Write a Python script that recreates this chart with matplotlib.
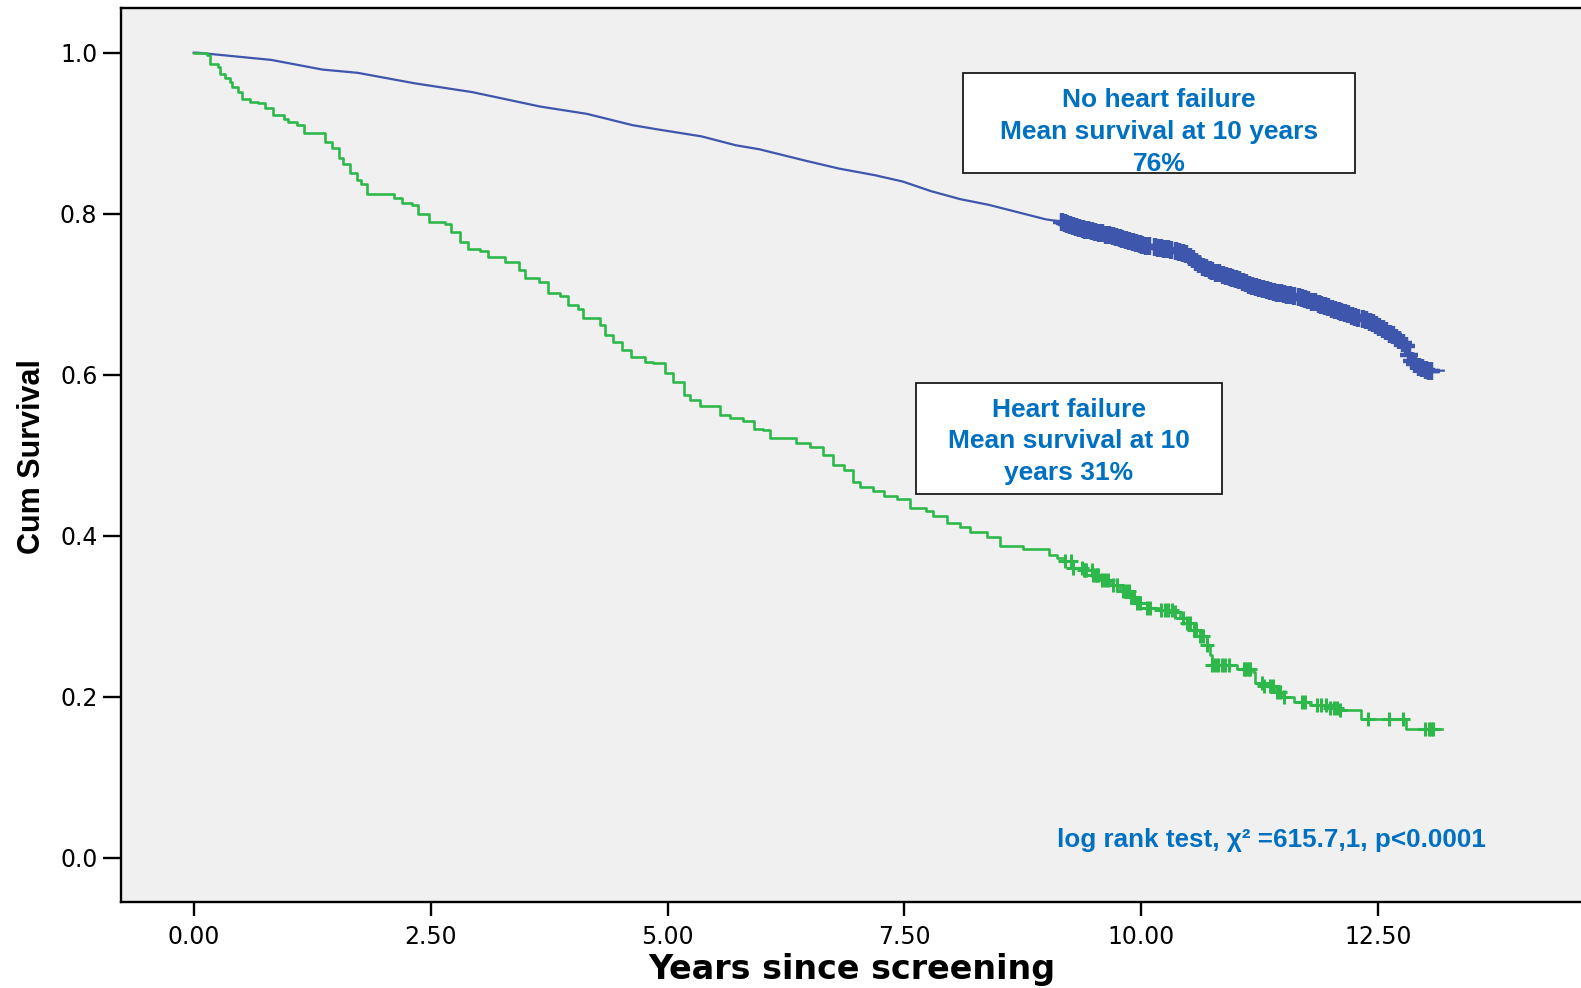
import numpy as np
import matplotlib
matplotlib.use("Agg")
import matplotlib.pyplot as plt
from matplotlib.patches import Rectangle

# ---------------- data ----------------
hf_times = [0.00, 0.14, 0.17, 0.26, 0.28, 0.33, 0.38, 0.40, 0.47, 0.51,
            0.60, 0.68, 0.75, 0.84, 0.95, 1.00, 1.09, 1.16, 1.39, 1.46,
            1.53, 1.58, 1.65, 1.72, 1.77, 1.83, 2.11, 2.20, 2.30, 2.37,
            2.48, 2.65, 2.72, 2.81, 2.90, 3.02, 3.11, 3.29, 3.43, 3.50,
            3.64, 3.74, 3.87, 3.95, 4.06, 4.11, 4.29, 4.34, 4.43, 4.52,
            4.62, 4.76, 4.85, 4.97, 5.06, 5.17, 5.24, 5.34, 5.55, 5.66,
            5.80, 5.91, 6.01, 6.08, 6.36, 6.50, 6.64, 6.75, 6.86, 6.96,
            7.03, 7.17, 7.28, 7.42, 7.56, 7.73, 7.80, 7.95, 8.09, 8.19,
            8.37, 8.51, 8.75, 9.02, 9.11, 9.19, 9.28, 9.39, 9.49, 9.56,
            9.67, 9.77, 9.88, 9.95, 10.06, 10.20, 10.34, 10.41, 10.48, 10.55,
            10.62, 10.69, 10.72, 10.74, 11.01, 11.18, 11.20, 11.29, 11.40, 11.47,
            11.61, 11.78, 11.96, 12.10, 12.32, 12.79, 13.17]
hf_surv = [1.000, 0.997, 0.986, 0.982, 0.974, 0.968, 0.964, 0.957, 0.951, 0.943,
           0.939, 0.937, 0.931, 0.922, 0.918, 0.914, 0.910, 0.900, 0.889, 0.881,
           0.869, 0.862, 0.850, 0.842, 0.837, 0.825, 0.819, 0.813, 0.811, 0.800,
           0.790, 0.787, 0.777, 0.765, 0.756, 0.754, 0.746, 0.740, 0.730, 0.720,
           0.715, 0.701, 0.698, 0.686, 0.682, 0.670, 0.662, 0.649, 0.641, 0.631,
           0.622, 0.616, 0.614, 0.602, 0.591, 0.575, 0.569, 0.561, 0.550, 0.546,
           0.542, 0.533, 0.531, 0.521, 0.515, 0.510, 0.500, 0.488, 0.482, 0.467,
           0.461, 0.455, 0.449, 0.446, 0.434, 0.431, 0.424, 0.416, 0.411, 0.404,
           0.398, 0.387, 0.383, 0.376, 0.372, 0.368, 0.360, 0.358, 0.351, 0.345,
           0.339, 0.331, 0.324, 0.316, 0.310, 0.308, 0.305, 0.298, 0.291, 0.283,
           0.275, 0.264, 0.252, 0.240, 0.235, 0.231, 0.217, 0.213, 0.206, 0.200,
           0.194, 0.190, 0.186, 0.183, 0.172, 0.160, 0.160]
hf_censored = [9.19, 9.26, 9.28, 9.37, 9.39, 9.40, 9.42, 9.475, 9.49, 9.51,
               9.53, 9.545, 9.58, 9.62, 9.65, 9.70, 9.74, 9.81, 9.84, 9.87,
               9.89, 9.92, 9.95, 9.98, 10.06, 10.09, 10.21, 10.25, 10.28, 10.32,
               10.35, 10.44, 10.48, 10.51, 10.55, 10.58, 10.62, 10.65, 10.69, 10.74,
               10.78, 10.81, 10.85, 10.88, 10.92, 11.08, 11.09, 11.11, 11.13, 11.15,
               11.27, 11.29, 11.36, 11.39, 11.43, 11.46, 11.50, 11.69, 11.73, 11.85,
               11.89, 11.95, 11.99, 12.03, 12.06, 12.10, 12.39, 12.61, 12.76, 12.99,
               13.03, 13.06, 13.08]

nohf_times = [0.00, 0.04, 0.82, 1.36, 1.73, 2.33, 2.94, 3.30, 3.66, 4.15,
              4.63, 4.88, 5.36, 5.72, 5.97, 6.45, 6.81, 7.18, 7.48, 7.78,
              8.09, 8.39, 8.69, 8.99, 9.16, 9.35, 9.60, 9.84, 10.09, 10.34,
              10.48, 10.62, 10.76, 10.97, 11.18, 11.39, 11.64, 11.85, 12.10, 12.31,
              12.45, 12.59, 12.73, 12.80, 12.83, 12.90, 13.01, 13.19]
nohf_surv = [1.000, 1.000, 0.991, 0.979, 0.975, 0.962, 0.951, 0.942, 0.933, 0.924,
             0.910, 0.905, 0.896, 0.885, 0.880, 0.866, 0.856, 0.848, 0.840, 0.828,
             0.818, 0.811, 0.802, 0.793, 0.790, 0.782, 0.775, 0.767, 0.759, 0.755,
             0.749, 0.736, 0.728, 0.720, 0.710, 0.703, 0.697, 0.689, 0.678, 0.670,
             0.664, 0.653, 0.643, 0.635, 0.620, 0.612, 0.605, 0.605]
nohf_censored = [9.16, 9.19, 9.22, 9.25, 9.28, 9.31, 9.34, 9.38, 9.41, 9.44,
                 9.48, 9.51, 9.55, 9.58, 9.63, 9.66, 9.70, 9.73, 9.77, 9.80,
                 9.84, 9.87, 9.91, 9.94, 9.98, 10.01, 10.05, 10.08, 10.14, 10.17,
                 10.21, 10.24, 10.28, 10.31, 10.37, 10.40, 10.44, 10.47, 10.51, 10.54,
                 10.58, 10.61, 10.65, 10.68, 10.72, 10.75, 10.79, 10.82, 10.86, 10.89,
                 10.93, 10.96, 11.00, 11.03, 11.07, 11.10, 11.14, 11.17, 11.21, 11.24,
                 11.28, 11.33, 11.36, 11.40, 11.43, 11.47, 11.50, 11.54, 11.57, 11.61,
                 11.66, 11.69, 11.73, 11.76, 11.80, 11.83, 11.87, 11.90, 11.94, 11.97,
                 12.01, 12.04, 12.08, 12.11, 12.15, 12.18, 12.22, 12.25, 12.29, 12.34,
                 12.37, 12.41, 12.44, 12.48, 12.51, 12.55, 12.58, 12.62, 12.65, 12.69,
                 12.72, 12.76, 12.79, 12.82, 12.86, 12.89, 12.93, 12.96, 13.00, 13.03,
                 13.06]

x_ticks = [0.0, 2.5, 5.0, 7.5, 10.0, 12.5]
x_tick_labels = ["0.00", "2.50", "5.00", "7.50", "10.00", "12.50"]
y_ticks = [0.0, 0.2, 0.4, 0.6, 0.8, 1.0]
y_tick_labels = ["0.0", "0.2", "0.4", "0.6", "0.8", "1.0"]

box1_text = "No heart failure\nMean survival at 10 years\n76%"
box2_text = "Heart failure\nMean survival at 10\nyears 31%"
stat_text = "log rank test, \u03c7\u00b2 =615.7,1, p<0.0001"

# ---------------- styling ----------------
W, H = 1581, 988
BLUE = "#3E56AC"
GREEN = "#2EB84B"
TXT_BLUE = "#0070C0"

fig = plt.figure(figsize=(W / 100, H / 100), dpi=100)
fig.patch.set_facecolor("white")

ax_l, ax_r, ax_t, ax_b = 121, 1581, 8, 902.4
ax = fig.add_axes([ax_l / W, 1 - ax_b / H, (ax_r - ax_l) / W, (ax_b - ax_t) / H])
ax.set_facecolor("#F0F0F0")
ax.set_xlim(-0.766, 14.638)
ax.set_ylim(-0.0555, 1.0555)

for s in ["left", "bottom", "top"]:
    ax.spines[s].set_linewidth(1.7)
    ax.spines[s].set_color("black")
ax.spines["right"].set_visible(False)

ax.set_xticks(x_ticks)
ax.set_xticklabels(x_tick_labels)
ax.set_yticks(y_ticks)
ax.set_yticklabels(y_tick_labels)
ax.tick_params(axis="x", length=10, width=1.7, pad=6, labelsize=17, direction="out")
ax.tick_params(axis="y", length=13, width=1.7, pad=4, labelsize=17, direction="out")
for lab in ax.get_xticklabels() + ax.get_yticklabels():
    lab.set_fontfamily("DejaVu Sans")

# curves
ax.plot(nohf_times, nohf_surv, color=BLUE, lw=1.6, solid_joinstyle="round", zorder=3)
ax.step(hf_times, hf_surv, where="post", color=GREEN, lw=1.9, zorder=3)

# censor marks
hf_t = np.array(hf_times)
hf_s = np.array(hf_surv)
hc = np.array(hf_censored)
hc_y = hf_s[np.searchsorted(hf_t, hc, side="right") - 1]
ax.plot(hc, hc_y, linestyle="none", marker="+", markersize=10.5, mew=2.2,
        color=GREEN, zorder=4)

nc = np.array(nohf_censored)
nc_y = np.interp(nc, nohf_times, nohf_surv)
ax.plot(nc, nc_y, linestyle="none", marker="+", markersize=12.5, mew=3.2,
        color=BLUE, zorder=4)

# axis titles
fig.text(32 / W, 1 - 457 / H, "Cum Survival", rotation=90, ha="center", va="center",
         fontsize=22, fontweight="bold", family="Liberation Sans")
fig.text(852 / W, 1 - 979 / H, "Years since screening", ha="center", va="baseline",
         fontsize=24, fontweight="bold", family="DejaVu Sans")

# annotation boxes
def add_box(x0, y0, x1, y1):
    r = Rectangle((x0 / W, 1 - y1 / H), (x1 - x0) / W, (y1 - y0) / H,
                  transform=fig.transFigure, facecolor="white", edgecolor="#1a1a1a",
                  linewidth=1.3, zorder=5)
    fig.add_artist(r)

add_box(963.3, 73.3, 1355.3, 172.7)
add_box(915.7, 382.7, 1221.7, 494.3)

fig.text(1159 / W, 1 - 132 / H, box1_text, ha="center", va="center",
         multialignment="center", fontsize=19, fontweight="bold",
         family="Liberation Sans", color=TXT_BLUE, linespacing=1.4, zorder=6)
fig.text(1068.7 / W, 1 - 441.5 / H, box2_text, ha="center", va="center",
         multialignment="center", fontsize=19, fontweight="bold",
         family="Liberation Sans", color=TXT_BLUE, linespacing=1.42, zorder=6)

fig.text(1271 / W, 1 - 846.7 / H, stat_text, ha="center", va="baseline",
         fontsize=18.7, fontweight="bold", family="Liberation Sans",
         color=TXT_BLUE, zorder=6)

fig.savefig("out.png", dpi=100, facecolor="white")
